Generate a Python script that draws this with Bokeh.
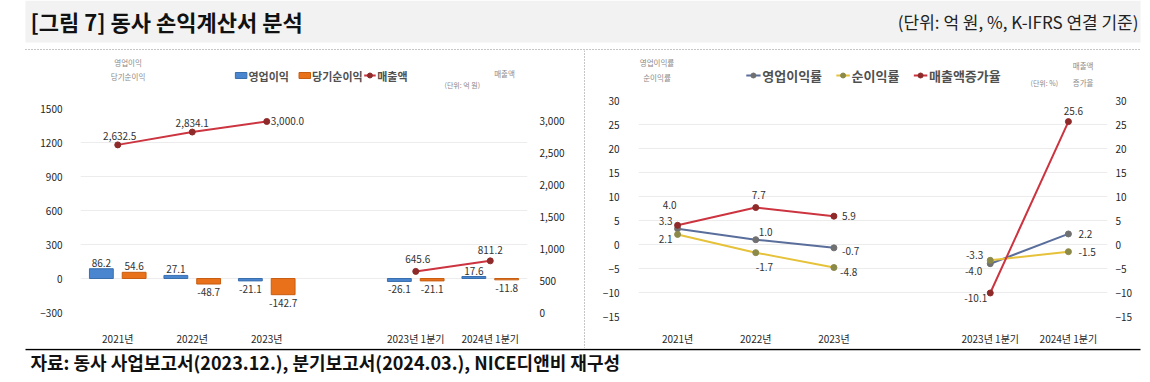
import math
from bokeh.plotting import figure
from bokeh.models import (Range1d, FactorRange, LinearAxis, FixedTicker,
                          NumeralTickFormatter, ColumnDataSource)
from bokeh.layouts import column, row
from bokeh.transform import dodge
from bokeh.core.properties import value
from bokeh.embed import file_html
from bokeh.resources import INLINE

KR = "Noto Sans CJK KR"

# ---------------- data ----------------
categories = ["2021년", "2022년", "2023년", " ", "2023년 1분기", "2024년 1분기"]
op_profit = [86.2, 27.1, -21.1, None, -26.1, 17.6]        # 영업이익
net_profit = [54.6, -48.7, -142.7, None, -21.1, -11.8]    # 당기순이익
sales = [2632.5, 2834.1, 3000.0, None, 645.6, 811.2]      # 매출액
op_margin = [3.3, 1.0, -0.7, None, -4.0, 2.2]             # 영업이익률
net_margin = [2.1, -1.7, -4.8, None, -3.3, -1.5]          # 순이익률
sales_growth = [4.0, 7.7, 5.9, None, -10.1, 25.6]         # 매출액증가율

left_ticks = [-300, 0, 300, 600, 900, 1200, 1500]
sales_ticks = [0, 500, 1000, 1500, 2000, 2500, 3000]
pct_ticks = [-15, -10, -5, 0, 5, 10, 15, 20, 25, 30]

left_legend = ["영업이익", "당기순이익", "매출액"]
right_legend = ["영업이익률", "순이익률", "매출액증가율"]

# ---------------- styles ----------------
BLUE = "#4a86cf"
ORANGE = "#e8711a"
RED = "#cc3440"
DRED = "#8e2a2a"
SLATE = "#5a6e9c"
GOLD = "#e6c23a"
TXT = "#333333"
W = 1142

# label placements (dx, dy in px, align) - styling only
sales_lbl = [(2, -9, "center"), (0, -9, "center"), (4, 0, "left"), None,
             (2, -12, "center"), (0, -11, "center")]
opm_lbl = [(-5, -8, "right"), (3, -8, "left"), (8, 3, "left"), None,
           (-8, 7, "right"), (10, 0, "left")]
nm_lbl = [(-5, 5, "right"), (0, 14, "left"), (6, 4, "left"), None,
          (-7, -5, "right"), (10, 0, "left")]
gr_lbl = [(-8, -20, "center"), (3, -13, "center"), (8, 0, "left"), None,
          (-3, 5, "right"), (5, -11, "center")]


def nan(v):
    return float("nan") if v is None else v


def plain(width, height, xr, yr):
    f = figure(width=width, height=height, x_range=Range1d(*xr), y_range=Range1d(*yr),
               min_border=0, output_backend="svg", toolbar_location=None,
               x_axis_type=None, y_axis_type=None)
    f.grid.visible = False
    f.outline_line_color = None
    return f


def txt(f, x, y, s, size, align="left", color=TXT, bold=False):
    f.text(x=[x], y=[y], text=[s], text_font=value(KR), text_font_size=size,
           text_align=align, text_baseline="middle", text_color=color,
           text_font_style="bold" if bold else "normal")


def add_labels(p, xs, ys, texts, places, size="10px", y_range_name="default",
               x_tr=None):
    groups = {}
    for x, y, t, pl in zip(xs, ys, texts, places):
        if y is None or pl is None:
            continue
        dx, dy, al = pl
        g = groups.setdefault(al, dict(x=[], y=[], t=[], dx=[], dy=[]))
        g["x"].append(x); g["y"].append(y); g["t"].append(t)
        g["dx"].append(dx); g["dy"].append(dy)
    for al, g in groups.items():
        src = ColumnDataSource(g)
        xx = "x" if x_tr is None else dodge("x", x_tr, range=p.x_range)
        p.text(x=xx, y="y", text="t", x_offset="dx", y_offset="dy", source=src,
               text_align=al, text_baseline="middle", text_font=value(KR),
               text_font_size=size, text_color=TXT, y_range_name=y_range_name)


def style_axis(ax, standoff, size="10px"):
    ax.axis_line_color = None
    ax.major_tick_line_color = None
    ax.minor_tick_line_color = None
    ax.major_label_standoff = standoff
    ax.major_label_text_font = KR
    ax.major_label_text_font_size = size
    ax.major_label_text_color = "#262626"


# ---------------- header ----------------
hdr = plain(W, 50, (0, W), (50, 0))
hdr.quad(left=[25], right=[1140], top=[0], bottom=[42], fill_color="#f2f2f2",
         line_color=None)
txt(hdr, 30, 20, "[그림 7] 동사 손익계산서 분석", "22px", color="#111111", bold=True)
txt(hdr, 1138, 21, "(단위: 억 원, %, K-IFRS 연결 기준)", "17px", align="right",
    color="#222222")
hdr.segment(x0=[25], y0=[49], x1=[1140], y1=[49], line_color="#8c8c8c",
            line_dash="1 2", line_width=1)

# ---------------- left strip (axis titles + legend) ----------------
s1 = plain(583, 50, (0, 583), (100, 50))
txt(s1, 62, 62, "영업이익", "7.5px", align="center", color="#8a8a8a")
txt(s1, 62, 76, "당기순이익", "7.5px", align="center", color="#8a8a8a")
txt(s1, 553, 73, "매출액", "7.5px", align="center", color="#8a8a8a")
txt(s1, 498, 84, "(단위: 억 원)", "7px", align="center", color="#8a8a8a")
LY = 75
s1.quad(left=[202], right=[217], top=[LY - 3], bottom=[LY + 3], fill_color=BLUE,
        line_color="#3a6fae")
txt(s1, 219, LY, left_legend[0], "11px", color="#505050", bold=True)
s1.quad(left=[285], right=[300], top=[LY - 3], bottom=[LY + 3], fill_color=ORANGE,
        line_color="#c85e12")
txt(s1, 302, LY, left_legend[1], "11px", color="#505050", bold=True)
s1.segment(x0=[370], y0=[LY], x1=[385], y1=[LY], line_color=RED, line_width=2)
s1.scatter(x=[377.5], y=[LY], size=5, fill_color=DRED, line_color=DRED)
txt(s1, 387, LY, left_legend[2], "11px", color="#505050", bold=True)

# ---------------- left chart ----------------
p1 = figure(width=583, height=248, x_range=FactorRange(*categories),
            y_range=Range1d(-300, 1500), output_backend="svg", toolbar_location=None,
            min_border_left=80, min_border_right=56, min_border_top=8,
            min_border_bottom=36)
p1.outline_line_color = None
p1.xgrid.grid_line_color = None
p1.ygrid.grid_line_color = "#ececec"
p1.yaxis.ticker = FixedTicker(ticks=left_ticks)
style_axis(p1.yaxis[0], 12)
style_axis(p1.xaxis[0], 12)
p1.extra_y_ranges = {"sales": Range1d(0, 3204)}
ax_r = LinearAxis(y_range_name="sales", ticker=FixedTicker(ticks=sales_ticks),
                  formatter=NumeralTickFormatter(format="0,0"))
style_axis(ax_r, 6)
p1.add_layout(ax_r, "right")

bx = [c for c, v in zip(categories, op_profit) if v is not None]
bsrc = ColumnDataSource(dict(cat=bx,
                             op=[v for v in op_profit if v is not None],
                             net=[v for v in net_profit if v is not None]))
p1.vbar(x=dodge("cat", -0.22, range=p1.x_range), top="op", bottom=0,
        width=0.32, source=bsrc, fill_color=BLUE, line_color="#3a6fae")
p1.vbar(x=dodge("cat", 0.22, range=p1.x_range), top="net", bottom=0,
        width=0.32, source=bsrc, fill_color=ORANGE, line_color="#c85e12")

ssrc = ColumnDataSource(dict(x=categories, y=[nan(v) for v in sales]))
p1.line(x="x", y="y", source=ssrc, y_range_name="sales", line_color=RED, line_width=2)
p1.scatter(x="x", y="y", source=ssrc, y_range_name="sales", size=6,
           fill_color=DRED, line_color=DRED)

for vals, off in ((op_profit, -0.22), (net_profit, 0.22)):
    places = [None if v is None else ((0, -6, "center") if v >= 0 else (0, 8, "center"))
              for v in vals]
    add_labels(p1, categories, vals, ["" if v is None else f"{v:.1f}" for v in vals],
               places, x_tr=off)
add_labels(p1, categories, sales, ["" if v is None else f"{v:,.1f}" for v in sales],
           sales_lbl, y_range_name="sales")

# ---------------- separator ----------------
sep = plain(2, 298, (0, 2), (348, 50))
sep.segment(x0=[1], y0=[50], x1=[1], y1=[348], line_color="#8c8c8c",
            line_dash="1 2", line_width=1)

# ---------------- right strip ----------------
s2 = plain(557, 42, (585, W), (92, 50))
txt(s2, 607, 62, "영업이익률", "7.5px", align="center", color="#8a8a8a")
txt(s2, 607, 77, "순이익률", "7.5px", align="center", color="#8a8a8a")
txt(s2, 1113, 65, "매출액", "7.5px", align="center", color="#8a8a8a")
txt(s2, 1113, 82, "증가율", "7.5px", align="center", color="#8a8a8a")
txt(s2, 1067, 82, "(단위: %)", "7px", align="center", color="#8a8a8a")
for (x0, x1), lc, mc, lab in (((713, 730), SLATE, "#707070", right_legend[0]),
                              ((820, 836), GOLD, "#8c8a4a", right_legend[1]),
                              ((912, 928), RED, DRED, right_legend[2])):
    s2.segment(x0=[x0], y0=[LY], x1=[x1], y1=[LY], line_color=lc, line_width=2)
    s2.scatter(x=[(x0 + x1) / 2], y=[LY], size=5, fill_color=mc, line_color=mc)
    txt(s2, x1 + 2, LY, lab, "13px", color="#505050", bold=True)

# ---------------- right chart ----------------
p2 = figure(width=557, height=256, x_range=FactorRange(*categories),
            y_range=Range1d(-15, 30), output_backend="svg", toolbar_location=None,
            min_border_left=53, min_border_right=35, min_border_top=8,
            min_border_bottom=29)
p2.outline_line_color = None
p2.xgrid.grid_line_color = None
p2.ygrid.grid_line_color = "#ececec"
p2.yaxis.ticker = FixedTicker(ticks=pct_ticks)
style_axis(p2.yaxis[0], 13)
style_axis(p2.xaxis[0], 8)
p2.extra_y_ranges = {"pct2": Range1d(-15, 30)}
ax_r2 = LinearAxis(y_range_name="pct2", ticker=FixedTicker(ticks=pct_ticks))
style_axis(ax_r2, 2)
p2.add_layout(ax_r2, "right")

for vals, lc, mc in ((op_margin, SLATE, "#707070"), (net_margin, GOLD, "#8c8a4a"),
                     (sales_growth, RED, DRED)):
    src = ColumnDataSource(dict(x=categories, y=[nan(v) for v in vals]))
    p2.line(x="x", y="y", source=src, line_color=lc, line_width=2)
    p2.scatter(x="x", y="y", source=src, size=6, fill_color=mc, line_color=mc)

add_labels(p2, categories, op_margin, ["" if v is None else f"{v:.1f}" for v in op_margin], opm_lbl)
add_labels(p2, categories, net_margin, ["" if v is None else f"{v:.1f}" for v in net_margin], nm_lbl)
add_labels(p2, categories, sales_growth, ["" if v is None else f"{v:.1f}" for v in sales_growth], gr_lbl)

# ---------------- footer ----------------
ftr = plain(W, 26, (0, W), (374, 348))
ftr.segment(x0=[25], y0=[349], x1=[1140], y1=[349], line_color="#000000", line_width=1.5)
txt(ftr, 30, 361, "자료: 동사 사업보고서(2023.12.), 분기보고서(2024.03.), NICE디앤비 재구성",
    "18px", color="#111111", bold=True)

layout = column(hdr,
                row(column(s1, p1, spacing=0), sep, column(s2, p2, spacing=0), spacing=0),
                ftr, spacing=0)

open("out.html", "w").write(file_html(layout, INLINE))
